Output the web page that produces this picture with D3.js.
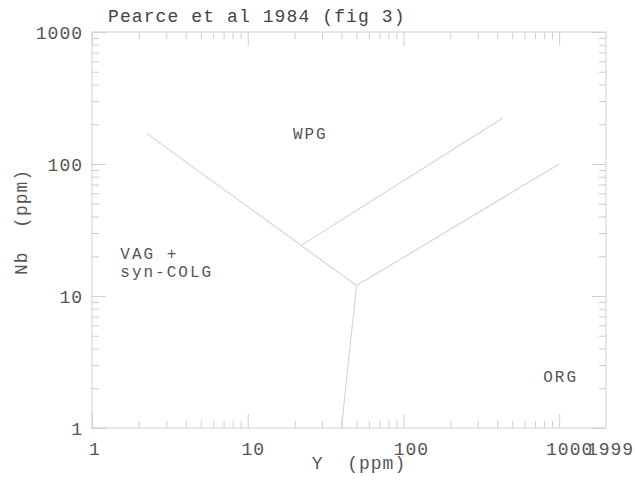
<!DOCTYPE html>
<html>
<head>
<meta charset="utf-8">
<script src="https://cdn.jsdelivr.net/npm/d3@7"></script>
<style>
  html, body { margin: 0; padding: 0; background: #fff; }
  text { font-family: "Liberation Mono", "DejaVu Sans Mono", monospace; white-space: pre; }
</style>
</head>
<body>
<svg id="chart" width="635" height="480"></svg>
<script>
// ---- data ----
const title = "Pearce et al 1984 (fig 3)";
const xLabel = "Y  (ppm)";
const yLabel = "Nb  (ppm)";
const xDomain = [1, 1999];
const yDomain = [1, 1000];
const xTickValues = [1, 10, 100, 1000, 1999];
const yTickValues = [1, 10, 100, 1000];
// field boundaries (Y, Nb) pairs
const boundaryX = [[2.25, 50], [50, 40], [50, 1000], [22.2, 432]];
const boundaryY = [[170, 12], [12, 1], [12, 100], [24.3, 222]];
// field names
const fieldNames = [["WPG"], ["VAG +", "syn-COLG"], ["ORG"]];
const fieldX = [19.5, 1.52, 790];
const fieldY = [155, 19.2, 2.23];

// ---- layout ----
const L = 92, R = 606, T = 32, B = 428;
const svg = d3.select("#chart");
const x = d3.scaleLog().domain(xDomain).range([L, R]);
const y = d3.scaleLog().domain(yDomain).range([B, T]);

function minors(domain) {
  const out = [];
  for (let d = 1; d <= domain[1]; d *= 10)
    for (let k = 2; k <= 9; k++) if (k * d < domain[1]) out.push(k * d);
  return out;
}
const xMajor = [1, 10, 100, 1000];
const yMajor = yTickValues;

const frameColor = "#cfcfcf";
const textColor = "#555";

// frame
svg.append("rect").attr("x", L).attr("y", T).attr("width", R - L).attr("height", B - T)
  .attr("fill", "none").attr("stroke", frameColor).attr("stroke-width", 1);

function tickAxis(gen, transform, values, size) {
  const g = svg.append("g").attr("transform", transform)
    .call(gen.tickValues(values).tickSize(size).tickFormat(""));
  g.select(".domain").remove();
  g.selectAll(".tick line").attr("stroke", frameColor);
  return g;
}
// inward ticks on all four sides
tickAxis(d3.axisBottom(x), `translate(0,${B})`, xMajor, -14);
tickAxis(d3.axisBottom(x), `translate(0,${B})`, minors(xDomain), -7);
tickAxis(d3.axisTop(x), `translate(0,${T})`, xMajor, -14);
tickAxis(d3.axisTop(x), `translate(0,${T})`, minors(xDomain), -7);
tickAxis(d3.axisLeft(y), `translate(${L},0)`, yMajor, -14);
tickAxis(d3.axisLeft(y), `translate(${L},0)`, minors(yDomain), -7);
tickAxis(d3.axisRight(y), `translate(${R},0)`, yMajor, -14);
tickAxis(d3.axisRight(y), `translate(${R},0)`, minors(yDomain), -7);

// tick labels
const fmt = d3.format("d");
const xl = svg.append("g").attr("transform", `translate(0,${B})`)
  .call(d3.axisBottom(x).tickValues(xTickValues).tickSize(0).tickFormat(fmt));
xl.select(".domain").remove();
xl.selectAll("text").attr("y", 27).attr("dy", 0)
  .attr("dx", d => Math.min(fmt(d).length * 2.5, 610 - x(d)))
  .attr("font-size", 18).attr("letter-spacing", 1)
  .attr("font-family", "Liberation Mono").attr("fill", textColor);

const yl = svg.append("g").attr("transform", `translate(${L},0)`)
  .call(d3.axisLeft(y).tickValues(yTickValues).tickSize(0).tickFormat(fmt));
yl.select(".domain").remove();
yl.selectAll("text").attr("x", -9).attr("dy", "0.35em")
  .attr("font-size", 18).attr("letter-spacing", 1)
  .attr("font-family", "Liberation Mono").attr("fill", textColor);

// boundary lines
const line = d3.line().x(d => x(d[0])).y(d => y(d[1]));
svg.append("g").selectAll("path")
  .data(boundaryX.map((xs, i) => xs.map((v, j) => [v, boundaryY[i][j]])))
  .join("path")
  .attr("d", line)
  .attr("fill", "none").attr("stroke", "#d4d4d4").attr("stroke-width", 1.1);

// field labels
fieldNames.forEach((lines, i) => {
  const t = svg.append("text")
    .attr("x", x(fieldX[i])).attr("y", y(fieldY[i]))
    .attr("font-size", 16).attr("letter-spacing", 2).attr("fill", textColor);
  lines.forEach((s, j) => t.append("tspan").attr("x", x(fieldX[i])).attr("dy", j ? 18.5 : 0).text(s));
});

// title and axis titles
svg.append("text").attr("x", 108).attr("y", 22).text(title)
  .attr("font-size", 18).attr("letter-spacing", 1.1).attr("fill", "#444");
svg.append("text").attr("x", (L + R) / 2 + 10).attr("y", 469).attr("text-anchor", "middle")
  .text(xLabel).attr("font-size", 18).attr("letter-spacing", 1).attr("fill", textColor);
svg.append("text").attr("transform", `translate(27,${(T + B) / 2 - 8}) rotate(-90)`)
  .attr("text-anchor", "middle")
  .text(yLabel).attr("font-size", 18).attr("letter-spacing", 1).attr("fill", textColor);
</script>
</body>
</html>
